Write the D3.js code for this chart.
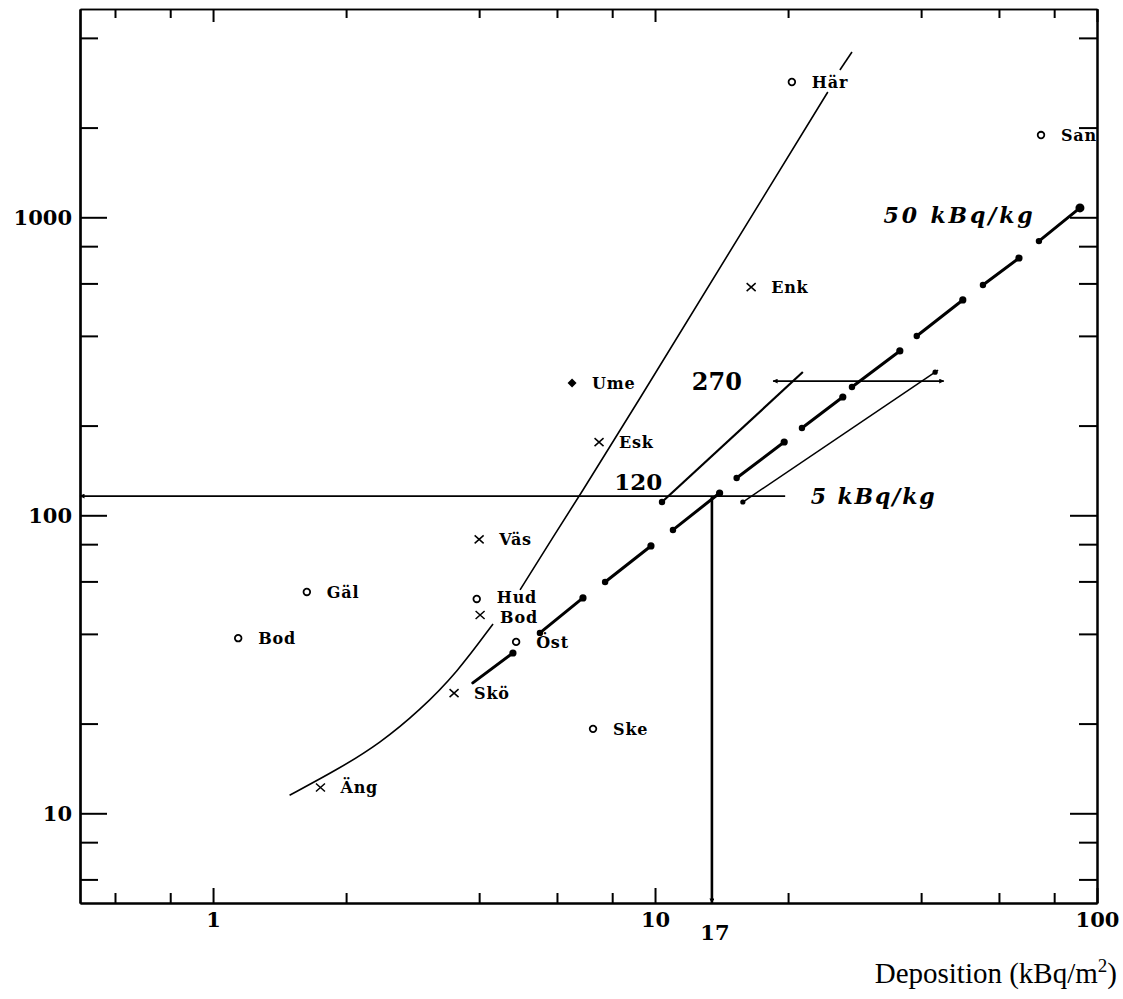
<!DOCTYPE html>
<html><head><meta charset="utf-8">
<script src="https://cdn.jsdelivr.net/npm/d3@7"></script>
<style>body{margin:0;background:#fff}</style>
</head><body>
<svg id="c" width="1123" height="999" xmlns="http://www.w3.org/2000/svg"></svg>
<script>
// ---- data ----
const sites         = ["Här","San","Enk","Ume","Esk","Väs","Gäl","Bod","Hud","Bod","Öst","Skö","Ske","Äng"];
const deposition    = [20.4, 74.7, 16.5, 6.49, 7.47, 4.0, 1.63, 1.14, 3.95, 4.02, 4.85, 3.51, 7.24, 1.75];
const concentration = [2845, 1888, 583, 278, 176, 83, 55.3, 38.7, 52.4, 46.3, 37.6, 25.3, 19.2, 12.2];
const markerType    = ["circle","circle","cross","diamond","cross","cross","circle","circle","circle","cross","circle","cross","circle","cross"];

// steep fitted curve (three pieces, broken where labels sit)
const curveLowX = [1.49, 1.91, 2.39, 2.94, 3.56, 4.30];
const curveLowY = [11.5, 14.0, 17.2, 22.2, 29.6, 43.2];
const curveMidX = [4.95, 5.88, 6.87, 9.25, 24.6];
const curveMidY = [56.2, 84.5, 121.6, 247.6, 2633];
const curveTopX = [26.2, 27.9];
const curveTopY = [3121, 3586];

// 50 kBq/kg dashed line (dash start / end points)
const dashStartX = [3.87, 5.49, 7.71, 10.98, 15.3, 21.5, 27.9, 39.1, 55.2, 73.9];
const dashStartY = [27.4, 40.3, 59.7, 89.3, 133.4, 196.3, 269.5, 399.7, 592.7, 832];
const dashEndX   = [4.77, 6.87, 9.79, 14.0, 19.6, 26.6, 35.8, 49.7, 66.6, 91.5];
const dashEndY   = [34.5, 52.8, 78.9, 118.8, 176.2, 249.4, 356, 528, 730, 1075];

// 5 kBq/kg band lines
const band120X = [10.37, 21.6];
const band120Y = [110.8, 302.5];
const band5X   = [15.8, 43.7];
const band5Y   = [110.8, 307];

// guide lines
const guide120Y = 116, guide120X = [0.5, 19.7];
const guide270Y = 282, guide270X = [18.5, 45.0];
const guideVX = 13.45, guideVY = [116, 5];

// axis ticks
const xMajor = [1, 10, 100];
const xMinor = [0.6, 0.8, 2, 4, 6, 8, 20, 40, 60, 80];
const yMajor = [10, 100, 1000];
const yMinor = [6, 8, 20, 40, 60, 80, 200, 400, 600, 800, 2000, 4000];
const xLabels = ["1", "10", "100"];
const yLabels = ["10", "100", "1000"];
const guideXLabel = "17";

// label nudges (px) so the stacked Hud / Bod labels do not collide
const labelNudge = [0, 0, 0, 0, 0, 0, 0, 0, -2, 2, 0, 0, 0, 0];

// annotation texts
const annotations = [
  {text: "120", x: 9.16, y: 130, size: 23, italic: false, anchor: "middle"},
  {text: "270", x: 13.8, y: 282, size: 24, italic: false, anchor: "middle"},
  {text: "5 kBq/kg", x: 22.5, y: 116, size: 22, italic: true, anchor: "start", len: 124},
  {text: "50 kBq/kg", x: 32.9, y: 1016, size: 22, italic: true, anchor: "start", len: 149}
];
const axisTitle = "Deposition (kBq/m";
const axisTitleSup = "2";

// ---- drawing ----
const svg = d3.select("#c");
const x = d3.scaleLog().domain([0.5, 100]).range([80, 1097]);
const y = d3.scaleLog().domain([5, 5000]).range([903, 9]);
const serif = "'DejaVu Serif', serif";

const defs = svg.append("defs");
defs.append("marker").attr("id","arr").attr("viewBox","0 0 10 10")
  .attr("refX",9).attr("refY",5).attr("markerWidth",7).attr("markerHeight",5)
  .attr("markerUnits","userSpaceOnUse").attr("orient","auto-start-reverse")
  .append("path").attr("d","M0,0L10,5L0,10Z").attr("fill","#000");

function styleAxis(g, w) {
  g.select(".domain").attr("stroke","#000").attr("stroke-width", w);
  g.selectAll(".tick line").attr("stroke","#000").attr("stroke-width", 2);
  g.selectAll(".tick text").attr("fill","#000").attr("font-family", serif)
    .attr("font-weight","bold").attr("font-size","21px");
}
const fmt = (vals, labs) => d => labs[vals.indexOf(d)];

// left
svg.append("g").attr("transform","translate(80,0)")
  .call(d3.axisLeft(y).tickValues(yMinor).tickSizeInner(-18).tickSizeOuter(0).tickFormat(""))
  .call(g => styleAxis(g, 2.2));
svg.append("g").attr("transform","translate(80,0)")
  .call(d3.axisLeft(y).tickValues(yMajor).tickSizeInner(-27).tickSizeOuter(0).tickPadding(8).tickFormat(fmt(yMajor, yLabels)))
  .call(g => styleAxis(g, 2.2));
// right
svg.append("g").attr("transform","translate(1097,0)")
  .call(d3.axisRight(y).tickValues(yMinor).tickSizeInner(-18).tickSizeOuter(0).tickFormat(""))
  .call(g => styleAxis(g, 2));
svg.append("g").attr("transform","translate(1097,0)")
  .call(d3.axisRight(y).tickValues(yMajor).tickSizeInner(-27).tickSizeOuter(0).tickFormat(""))
  .call(g => styleAxis(g, 2));
// bottom
svg.append("g").attr("transform","translate(0,903)")
  .call(d3.axisBottom(x).tickValues(xMinor).tickSizeInner(-10).tickSizeOuter(0).tickFormat(""))
  .call(g => styleAxis(g, 2));
svg.append("g").attr("transform","translate(0,903)")
  .call(d3.axisBottom(x).tickValues(xMajor).tickSizeInner(-15).tickSizeOuter(0).tickPadding(9).tickFormat(fmt(xMajor, xLabels)))
  .call(g => styleAxis(g, 2));
// top
svg.append("g").attr("transform","translate(0,9)")
  .call(d3.axisTop(x).tickValues(xMinor).tickSizeInner(-9).tickSizeOuter(0).tickFormat(""))
  .call(g => styleAxis(g, 1.6));
svg.append("g").attr("transform","translate(0,9)")
  .call(d3.axisTop(x).tickValues(xMajor).tickSizeInner(-13).tickSizeOuter(0).tickFormat(""))
  .call(g => styleAxis(g, 1.6));

// "17" label under vertical guide
svg.append("text").attr("x", x(guideVX) + 3).attr("y", 940)
  .attr("text-anchor","middle").attr("font-family", serif).attr("font-weight","bold")
  .attr("font-size","21px").text(guideXLabel);

// guides
const plot = svg.append("g");
plot.append("line").attr("x1", x(guide120X[1])).attr("x2", x(guide120X[0]))
  .attr("y1", y(guide120Y)).attr("y2", y(guide120Y))
  .attr("stroke","#000").attr("stroke-width",1.6).attr("marker-end","url(#arr)");
plot.append("line").attr("x1", x(guide270X[0])).attr("x2", x(guide270X[1]))
  .attr("y1", y(guide270Y)).attr("y2", y(guide270Y))
  .attr("stroke","#000").attr("stroke-width",1.6)
  .attr("marker-start","url(#arr)").attr("marker-end","url(#arr)");
plot.append("line").attr("x1", x(guideVX)).attr("x2", x(guideVX))
  .attr("y1", y(guideVY[0])).attr("y2", y(guideVY[1]))
  .attr("stroke","#000").attr("stroke-width",2.6).attr("marker-end","url(#arr)");

// steep curve
const pts = (xs, ys) => xs.map((v, i) => [x(v), y(ys[i])]);
plot.append("path").attr("d", d3.line().curve(d3.curveBasis)(pts(curveLowX, curveLowY)))
  .attr("fill","none").attr("stroke","#000").attr("stroke-width",1.6);
plot.append("path").attr("d", d3.line()(pts(curveMidX, curveMidY)))
  .attr("fill","none").attr("stroke","#000").attr("stroke-width",1.6);
plot.append("path").attr("d", d3.line()(pts(curveTopX, curveTopY)))
  .attr("fill","none").attr("stroke","#000").attr("stroke-width",1.6);

// band lines
plot.append("path").attr("d", d3.line()(pts(band120X, band120Y)))
  .attr("fill","none").attr("stroke","#000").attr("stroke-width",2.2);
plot.append("circle").attr("cx", x(band120X[0])).attr("cy", y(band120Y[0])).attr("r",3.2).attr("fill","#000");
plot.append("path").attr("d", d3.line()(pts(band5X, band5Y)))
  .attr("fill","none").attr("stroke","#000").attr("stroke-width",1.5);
plot.append("circle").attr("cx", x(band5X[0])).attr("cy", y(band5Y[0])).attr("r",2.6).attr("fill","#000");
plot.append("circle").attr("cx", x(band5X[1]) - 3).attr("cy", y(band5Y[1]) + 2).attr("r",2.6).attr("fill","#000");

// dashed 50 kBq/kg line
const dashes = dashStartX.map((v, i) => ({x1: v, y1: dashStartY[i], x2: dashEndX[i], y2: dashEndY[i]}));
plot.selectAll(".dash").data(dashes).join("line").attr("class","dash")
  .attr("x1", d => x(d.x1)).attr("y1", d => y(d.y1))
  .attr("x2", d => x(d.x2)).attr("y2", d => y(d.y2))
  .attr("stroke","#000").attr("stroke-width",3).attr("stroke-linecap","round");
plot.selectAll(".dotS").data(dashes.slice(1)).join("circle").attr("class","dotS")
  .attr("cx", d => x(d.x1)).attr("cy", d => y(d.y1)).attr("r",3.2).attr("fill","#000");
plot.selectAll(".dotE").data(dashes).join("circle").attr("class","dotE")
  .attr("cx", d => x(d.x2)).attr("cy", d => y(d.y2)).attr("r",(d,i) => i === dashes.length-1 ? 4.5 : 3.6).attr("fill","#000");

// annotations
annotations.forEach(a => {
  const t = plot.append("text").attr("x", x(a.x)).attr("y", y(a.y)).attr("dy","0.36em")
    .attr("text-anchor", a.anchor).attr("font-family", serif)
    .attr("font-weight","bold").attr("font-style", a.italic ? "italic" : "normal")
    .attr("font-size", a.size + "px").text(a.text);
  if (a.len) t.attr("textLength", a.len).attr("lengthAdjust","spacing");
});

// site markers
const siteData = sites.map((s, i) => ({name: s, x: deposition[i], y: concentration[i], m: markerType[i], n: labelNudge[i]}));
const sg = plot.selectAll(".site").data(siteData).join("g").attr("class","site")
  .attr("transform", d => `translate(${x(d.x)},${y(d.y)})`);
sg.each(function(d) {
  const g = d3.select(this);
  if (d.m === "circle") g.append("circle").attr("r",3.3).attr("fill","#fff").attr("stroke","#000").attr("stroke-width",1.8);
  else if (d.m === "cross") g.append("path").attr("d","M-4.5,-4L4.5,4M-4.5,4L4.5,-4").attr("stroke","#000").attr("stroke-width",1.5);
  else g.append("path").attr("d","M0,-4.5L4.5,0L0,4.5L-4.5,0Z").attr("fill","#000");
});
sg.append("text").attr("x",20).attr("y", d => d.n).attr("dy","0.36em").attr("font-family", serif)
  .attr("font-weight","bold").attr("font-size","16px").attr("letter-spacing","0.8px").text(d => d.name);

// axis title
const tt = svg.append("text").attr("x", 1117).attr("y", 983).attr("text-anchor","end")
  .attr("font-family","'Liberation Serif', 'Times New Roman', serif").attr("font-size","29px");
tt.append("tspan").text(axisTitle);
tt.append("tspan").attr("dy","-11").attr("font-size","19px").text(axisTitleSup);
tt.append("tspan").attr("dy","11").text(")");
</script>
</body></html>
